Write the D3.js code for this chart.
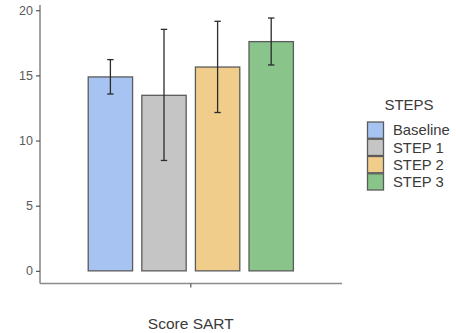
<!DOCTYPE html>
<html lang="en">
<head>
    <meta charset="UTF-8">
    <title>Score SART</title>
    <script src="https://d3js.org/d3.v7.min.js"></script>
    <style>
        body { margin: 0; background: #fff; }
        text { font-family: "Liberation Sans", Arial, sans-serif; }
    </style>
</head>
<body>
    <div id="chart"></div>
    <script>
        // data
        const steps = ["Baseline", "STEP 1", "STEP 2", "STEP 3"];
        const means = [14.88, 13.47, 15.64, 17.59];
        const lower = [13.57, 8.47, 12.15, 15.8];
        const upper = [16.21, 18.53, 19.15, 19.4];
        const colors = ["#a6c3f1", "#c5c5c5", "#f1cd8b", "#89c48b"];
        const yTicks = [0, 5, 10, 15, 20];
        const category = ["Score SART"];

        const width = 456, height = 333;
        const svg = d3.select("#chart").append("svg")
            .attr("width", width)
            .attr("height", height);

        // x: one discrete group, dodged into 4 bars
        const xLeft = 40, xRight = 342;
        const groupCenter = 190.8;
        const step = 53.6;
        const xBar = d3.scaleBand()
            .domain(steps)
            .range([groupCenter - 2 * step, groupCenter + 2 * step])
            .paddingInner(0.172)
            .paddingOuter(0.086);

        const y = d3.scaleLinear()
            .domain([-0.97, 20.4])
            .range([283.5, 5]);

        // axes
        const axisColor = "#8c8c8c";
        const yAxis = svg.append("g")
            .attr("transform", "translate(" + xLeft + ",0)")
            .call(d3.axisLeft(y).tickValues(yTicks).tickSize(4).tickPadding(3));
        yAxis.select(".domain").attr("d", "M0," + y.range()[0] + "V" + y.range()[1]);

        const xAxis = svg.append("g")
            .attr("transform", "translate(0," + y.range()[0] + ")");
        xAxis.append("path")
            .attr("d", "M" + xLeft + ",0H" + xRight);
        xAxis.append("line")
            .attr("x1", groupCenter).attr("x2", groupCenter)
            .attr("y1", 0).attr("y2", 4);

        svg.selectAll(".domain, g path, g line")
            .attr("stroke", axisColor)
            .attr("stroke-width", 1.6)
            .attr("fill", "none");
        yAxis.selectAll(".tick line").attr("stroke", "#555").attr("stroke-width", 1.2);
        xAxis.select("line").attr("stroke", "#555").attr("stroke-width", 1.2);
        yAxis.selectAll(".tick text")
            .attr("fill", "#5a5a5a")
            .style("font-size", "12.5px");

        // bars
        svg.selectAll("rect.bar")
            .data(steps)
            .enter()
            .append("rect")
            .attr("class", "bar")
            .attr("x", d => xBar(d))
            .attr("y", (d, i) => y(means[i]))
            .attr("width", xBar.bandwidth())
            .attr("height", (d, i) => y(0) - y(means[i]))
            .attr("fill", (d, i) => colors[i])
            .attr("stroke", "#5b5b5b")
            .attr("stroke-width", 1.3);

        // error bars
        const cap = 3.2;
        const err = svg.append("g")
            .attr("stroke", "#2b2b2b")
            .attr("stroke-width", 1.3);
        steps.forEach(function(s, i) {
            const cx = xBar(s) + xBar.bandwidth() / 2;
            err.append("line")
                .attr("x1", cx).attr("x2", cx)
                .attr("y1", y(lower[i])).attr("y2", y(upper[i]));
            err.append("line")
                .attr("x1", cx - cap).attr("x2", cx + cap)
                .attr("y1", y(lower[i])).attr("y2", y(lower[i]));
            err.append("line")
                .attr("x1", cx - cap).attr("x2", cx + cap)
                .attr("y1", y(upper[i])).attr("y2", y(upper[i]));
        });

        // x title
        svg.append("text")
            .attr("x", groupCenter)
            .attr("y", 329)
            .attr("text-anchor", "middle")
            .attr("fill", "#3a3a3a")
            .style("font-size", "15.5px")
            .text(category[0]);

        // legend
        const legend = svg.append("g");
        legend.append("text")
            .attr("x", 409)
            .attr("y", 110)
            .attr("text-anchor", "middle")
            .attr("fill", "#3a3a3a")
            .style("font-size", "15px")
            .text("STEPS");

        const keyY = d3.scaleBand()
            .domain(steps)
            .range([121.5, 190.5]);

        const rows = legend.selectAll("g.key")
            .data(steps)
            .enter()
            .append("g")
            .attr("class", "key");
        rows.append("rect")
            .attr("x", 367.5)
            .attr("y", d => keyY(d) + 0.5)
            .attr("width", 16)
            .attr("height", keyY.bandwidth() - 1)
            .attr("fill", (d, i) => colors[i])
            .attr("stroke", "#5b5b5b")
            .attr("stroke-width", 1.3);
        rows.append("text")
            .attr("x", 393)
            .attr("y", d => keyY(d) + keyY.bandwidth() / 2)
            .attr("dy", "0.36em")
            .attr("fill", "#3a3a3a")
            .style("font-size", "14.8px")
            .text(d => d);
    </script>
</body>
</html>
